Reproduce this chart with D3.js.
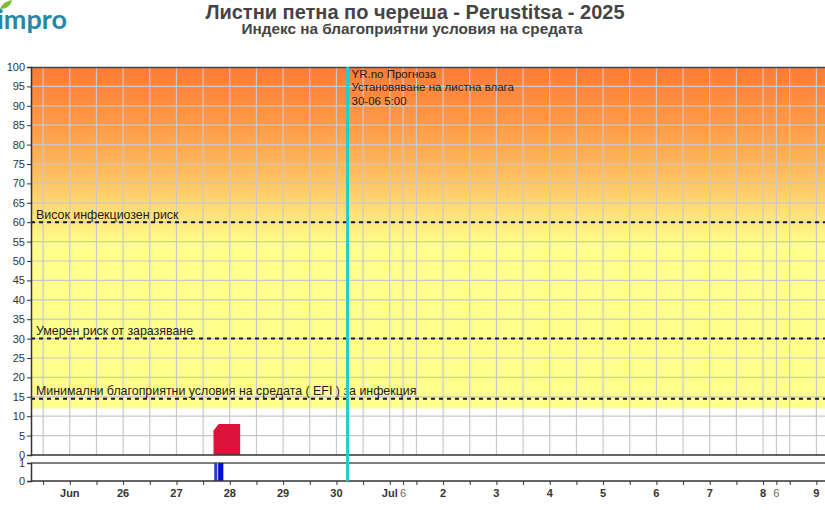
<!DOCTYPE html>
<html><head><meta charset="utf-8">
<script src="https://cdn.jsdelivr.net/npm/d3@7"></script>
<style>
html,body{margin:0;padding:0;background:#fff;overflow:hidden}
svg{display:block;font-family:"Liberation Sans",Arial,sans-serif}
</style></head>
<body><svg id="c" width="825" height="510"></svg>
<script>
// ---- data ----
const titleText = "Листни петна по череша - Perustitsa - 2025";
const subtitleText = "Индекс на благоприятни условия на средата";
const riskTimes = ["2025-06-27 16:40","2025-06-27 17:00","2025-06-27 18:00","2025-06-27 19:00","2025-06-27 20:00","2025-06-27 21:00","2025-06-27 22:00","2025-06-27 23:00","2025-06-28 00:00","2025-06-28 01:00","2025-06-28 02:00","2025-06-28 03:00","2025-06-28 04:00","2025-06-28 04:40"];
const riskValues = [6.3, 6.5, 7.3, 8, 8, 8, 8, 8, 8, 8, 8, 8, 8, 8];
const wetTimes = ["2025-06-27 17:00","2025-06-27 18:00","2025-06-27 19:00","2025-06-27 20:00"];
const wetValues = [1, 1, 1, 1];
const thresholdValues = [60, 30, 14.5];
const thresholdLabels = ["Висок инфекциозен риск","Умерен риск от заразяване","Минимални благоприятни условия на средата ( EFI ) за инфекция"];
const favorableFrom = 12;
const dayTickTimes = ["2025-06-25 00:00","2025-06-26 00:00","2025-06-27 00:00","2025-06-28 00:00","2025-06-29 00:00","2025-06-30 00:00","2025-07-01 00:00","2025-07-02 00:00","2025-07-03 00:00","2025-07-04 00:00","2025-07-05 00:00","2025-07-06 00:00","2025-07-07 00:00","2025-07-08 00:00","2025-07-09 00:00"];
const dayTickLabels = ["Jun","26","27","28","29","30","Jul","2","3","4","5","6","7","8","9"];
const hourTickTimes = ["2025-07-01 06:00","2025-07-08 06:00"];
const hourTickLabels = ["6","6"];
const forecastTime = "2025-06-30 05:00";
const forecastLines = ["YR.no Прогноза","Установяване на листна влага","30-06 5:00"];

// ---- setup ----
const parse = d3.timeParse("%Y-%m-%d %H:%M");
const svg = d3.select("#c");
const L = 31, R = 832, T = 67, B = 455, T2 = 463, B2 = 481;

const x = d3.scaleTime()
  .domain([parse("2025-06-25 00:00"), parse("2025-07-09 00:00")])
  .range([69.8, 816.4]);
const y = d3.scaleLinear().domain([0, 100]).range([B, T]);
const y2 = d3.scaleLinear().domain([0, 1]).range([B2, T2]);
const tStart = x.invert(L), tEnd = x.invert(R);

const defs = svg.append("defs");
const grad = defs.append("linearGradient").attr("id","bg").attr("x1",0).attr("x2",0)
  .attr("gradientUnits","userSpaceOnUse").attr("y1", y(100)).attr("y2", y(favorableFrom));
const stops = [[100,"#ff7b36"],[85,"#ff9a48"],[72,"#ffbf60"],[62,"#ffe27a"],[54,"#ffff8c"],[favorableFrom,"#ffff8e"]];
stops.forEach(s => grad.append("stop").attr("offset", (y(s[0]) - y(100)) / (y(favorableFrom) - y(100))).attr("stop-color", s[1]));
defs.append("clipPath").attr("id","clipMain").append("rect").attr("x",L).attr("y",T).attr("width",R-L).attr("height",B-T);

// background
svg.append("rect").attr("x",L).attr("y",y(100)).attr("width",R-L).attr("height",y(favorableFrom)-y(100)).attr("fill","url(#bg)");

// grid
const gridTimes = d3.timeHour.every(12).range(tStart, tEnd).concat(hourTickTimes.map(parse));
const grid = svg.append("g").attr("clip-path","url(#clipMain)");
grid.selectAll("line.v").data(gridTimes).join("line")
  .attr("x1", d => x(d)).attr("x2", d => x(d)).attr("y1", T).attr("y2", B)
  .attr("stroke","#c8c8c8").attr("stroke-width",1.2);
grid.selectAll("line.h").data(d3.range(5, 100, 5)).join("line")
  .attr("x1", L).attr("x2", R).attr("y1", d => y(d)).attr("y2", d => y(d))
  .attr("stroke","#c8c8c8").attr("stroke-width",1.2);

// risk area
const riskData = riskTimes.map((t,i) => ({t: parse(t), v: riskValues[i]}));
svg.append("path").datum(riskData)
  .attr("fill","#dc143c")
  .attr("d", d3.area().x(d => x(d.t)).y0(y(0)).y1(d => y(d.v)));

// thresholds
thresholdValues.forEach((v,i) => {
  svg.append("line").attr("x1",L).attr("x2",R).attr("y1",y(v)).attr("y2",y(v))
    .attr("stroke","#1a1a1a").attr("stroke-width",2).attr("stroke-dasharray","4,4");
  svg.append("text").attr("x",36).attr("y",y(v)-3.5).attr("font-size",12.4).attr("fill","#1a1a1a").text(thresholdLabels[i]);
});

// frames
svg.append("line").attr("x1",L).attr("x2",R).attr("y1",T+0.5).attr("y2",T+0.5).attr("stroke","#444").attr("stroke-width",1.5);
svg.append("line").attr("x1",L).attr("x2",R).attr("y1",B).attr("y2",B).attr("stroke","#333").attr("stroke-width",1.5);
svg.append("line").attr("x1",L).attr("x2",R).attr("y1",T2).attr("y2",T2).attr("stroke","#555").attr("stroke-width",1.5);

// y axis main
const ya = svg.append("g").attr("transform",`translate(${L},0)`)
  .call(d3.axisLeft(y).tickValues(d3.range(0,101,5)).tickSize(4).tickPadding(2));
ya.select(".domain").attr("stroke","#333").attr("stroke-width",1.5);
ya.selectAll(".tick line").attr("stroke","#333");
ya.selectAll("text").attr("font-size",11).attr("fill","#333").attr("font-family","Liberation Sans, Arial, sans-serif");

// wetness bars
const wetData = wetTimes.map((t,i) => ({t: parse(t), v: wetValues[i]}));
svg.selectAll("rect.wet").data(wetData).join("rect")
  .attr("x", d => x(d.t)).attr("width", d => x(d3.timeHour.offset(d.t,1)) - x(d.t) + 0.2)
  .attr("y", d => y2(d.v)).attr("height", d => y2(0) - y2(d.v))
  .attr("fill", (d,i) => i === 0 ? "#2a3ccf" : "#0010c8");
svg.append("line").attr("x1", x(parse(wetTimes[1])) + 1.2).attr("x2", x(parse(wetTimes[1])) + 1.2)
  .attr("y1", y2(1)).attr("y2", y2(0)).attr("stroke","#fff").attr("stroke-width",0.8);

// y axis bottom panel
const yb = svg.append("g").attr("transform",`translate(${L},0)`)
  .call(d3.axisLeft(y2).tickValues([0,1]).tickFormat(d3.format("d")).tickSize(4).tickPadding(2));
yb.select(".domain").attr("stroke","#333").attr("stroke-width",1.5);
yb.selectAll(".tick line").attr("stroke","#333");
yb.selectAll("text").attr("font-size",11).attr("fill","#333").attr("font-family","Liberation Sans, Arial, sans-serif");

// x axis
const xTicks = d3.timeHour.every(12).range(tStart, tEnd).concat(hourTickTimes.map(parse));
const xa = svg.append("g").attr("transform",`translate(0,${B2})`)
  .call(d3.axisBottom(x).tickValues(xTicks).tickFormat("").tickSize(4));
xa.select(".domain").remove();
xa.selectAll(".tick line").attr("stroke","#333");
svg.append("line").attr("x1",L).attr("x2",R).attr("y1",B2).attr("y2",B2).attr("stroke","#333").attr("stroke-width",1.5);

const dayTicks = dayTickTimes.map((t,i) => ({t: parse(t), l: dayTickLabels[i]}));
svg.selectAll("text.day").data(dayTicks).join("text")
  .attr("x", d => x(d.t)).attr("y", 497).attr("text-anchor","middle")
  .attr("font-size",11).attr("font-weight","bold").attr("fill","#333").text(d => d.l);
const hourTicks = hourTickTimes.map((t,i) => ({t: parse(t), l: hourTickLabels[i]}));
svg.selectAll("text.hr").data(hourTicks).join("text")
  .attr("x", d => x(d.t)).attr("y", 497).attr("text-anchor","middle")
  .attr("font-size",11).attr("fill","#666").text(d => d.l);

// forecast line
const fx = x(parse(forecastTime));
svg.append("line").attr("x1",fx).attr("x2",fx).attr("y1",T).attr("y2",B2)
  .attr("stroke","#1ccfd0").attr("stroke-width",3);
forecastLines.forEach((s,i) => svg.append("text").attr("x",fx+4).attr("y",78+i*13.3)
  .attr("font-size",11.5).attr("fill","#1a1a1a").text(s));

// titles
svg.append("text").attr("x",415).attr("y",19).attr("text-anchor","middle")
  .attr("font-size",20).attr("font-weight","bold").attr("fill","#444").text(titleText);
svg.append("text").attr("x",412).attr("y",34).attr("text-anchor","middle")
  .attr("font-size",15.3).attr("font-weight","bold").attr("fill","#444").text(subtitleText);

// logo
svg.append("text").attr("x",-3).attr("y",29).attr("font-size",27).attr("font-family","Lato, 'Open Sans', sans-serif")
  .attr("font-weight","bold").attr("fill","#2687a8").text("impro");
svg.append("path").attr("d","M0,9 C2,3 7,1 12,0 C11,5 7,9 0,9 Z").attr("fill","#7cbd3c");
</script></body></html>
